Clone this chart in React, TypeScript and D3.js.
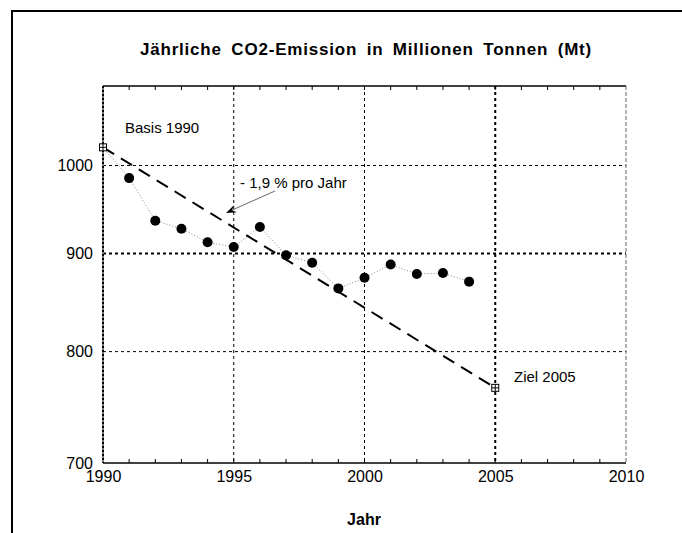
import { useRef, useEffect } from 'react';
import * as d3 from 'd3';

// Emission data (Mt CO2)
const years = [1991, 1992, 1993, 1994, 1995, 1996, 1997, 1998, 1999, 2000, 2001, 2002, 2003, 2004];
const emissions = [985, 936, 927, 912, 907, 929, 898, 890, 863, 874, 888, 878, 879, 870];

// Baseline and target (squares), joined by the dashed -1.9 %/year line
const targetYears = [1990, 2005];
const targetValues = [1022, 766];

const xTicks = [1990, 1995, 2000, 2005, 2010];
const yTicks = [700, 800, 900, 1000];
const xGrid = [1995, 2000, 2005];
const yGrid = [800, 900, 1000];

const W = 682;
const H = 533;
const FONT = '"Liberation Sans", Arial, Helvetica, sans-serif';

export default function App() {
  const svgRef = useRef<SVGSVGElement>(null);

  useEffect(() => {
    if (!svgRef.current) return;
    const svg = d3.select(svgRef.current);
    svg.selectAll('*').remove();

    const left = 103, right = 626, top = 86, bottom = 463;
    const x = d3.scaleLinear().domain([1990, 2010]).range([left, right]);
    const y = d3.scaleLog().domain([700, 1100]).range([bottom, top]);

    // outer frame (only top and left are in view)
    svg.append('line').attr('x1', 11).attr('x2', W).attr('y1', 11).attr('y2', 11)
      .attr('stroke', '#000').attr('stroke-width', 2);
    svg.append('line').attr('x1', 12).attr('x2', 12).attr('y1', 10).attr('y2', H)
      .attr('stroke', '#000').attr('stroke-width', 2);

    // title
    svg.append('text')
      .attr('x', 366).attr('y', 55)
      .attr('text-anchor', 'middle')
      .attr('font-family', FONT).attr('font-weight', 'bold').attr('font-size', 17)
      .attr('word-spacing', 4).attr('letter-spacing', 0.8)
      .text('Jährliche CO2-Emission in Millionen Tonnen (Mt)');

    const g = svg.append('g');

    // grid
    xGrid.forEach((v) => {
      const heavy = v === 2005;
      g.append('line')
        .attr('x1', x(v)).attr('x2', x(v)).attr('y1', top).attr('y2', bottom)
        .attr('stroke', '#000').attr('stroke-width', heavy ? 2 : 1)
        .attr('stroke-dasharray', '3,3');
    });
    yGrid.forEach((v) => {
      const heavy = v === 900;
      g.append('line')
        .attr('x1', left).attr('x2', right).attr('y1', y(v)).attr('y2', y(v))
        .attr('stroke', '#000').attr('stroke-width', heavy ? 2 : 1)
        .attr('stroke-dasharray', '3,3');
    });

    // plot borders
    g.append('line').attr('x1', left).attr('x2', right).attr('y1', top).attr('y2', top)
      .attr('stroke', '#000').attr('stroke-width', 1.5);
    g.append('line').attr('x1', left).attr('x2', right).attr('y1', bottom).attr('y2', bottom)
      .attr('stroke', '#000').attr('stroke-width', 1.5);
    g.append('line').attr('x1', left).attr('x2', left).attr('y1', top).attr('y2', bottom)
      .attr('stroke', '#777').attr('stroke-width', 2);
    g.append('line').attr('x1', left).attr('x2', left).attr('y1', top).attr('y2', bottom)
      .attr('stroke', '#000').attr('stroke-width', 2).attr('stroke-dasharray', '2,2');
    g.append('line').attr('x1', right).attr('x2', right).attr('y1', top).attr('y2', bottom)
      .attr('stroke', '#666').attr('stroke-width', 1).attr('stroke-dasharray', '4,2');

    // minor year ticks on top and bottom
    d3.range(1991, 2010).forEach((yr) => {
      g.append('line').attr('x1', x(yr)).attr('x2', x(yr)).attr('y1', bottom).attr('y2', bottom - 4)
        .attr('stroke', '#000').attr('stroke-width', 1);
      g.append('line').attr('x1', x(yr)).attr('x2', x(yr)).attr('y1', top).attr('y2', top + 4)
        .attr('stroke', '#000').attr('stroke-width', 1);
    });

    // x axis labels
    const xAxis = svg.append('g')
      .attr('transform', `translate(0,${bottom})`)
      .call(d3.axisBottom(x).tickValues(xTicks).tickFormat(d3.format('d')).tickSize(0).tickPadding(8));
    xAxis.select('.domain').remove();
    xAxis.selectAll('.tick text')
      .attr('font-family', FONT).attr('font-size', 16).attr('fill', '#000');

    // y axis labels
    const yAxis = svg.append('g')
      .attr('transform', `translate(${left},0)`)
      .call(d3.axisLeft(y).tickValues(yTicks).tickFormat(d3.format('d')).tickSize(0).tickPadding(10));
    yAxis.select('.domain').remove();
    yAxis.selectAll('.tick text')
      .attr('font-family', FONT).attr('font-size', 16).attr('fill', '#000');

    // x axis title
    svg.append('text')
      .attr('x', 364).attr('y', 525)
      .attr('text-anchor', 'middle')
      .attr('font-family', FONT).attr('font-weight', 'bold').attr('font-size', 16)
      .text('Jahr');

    // dotted line through the measured values (from 1990 base)
    const series = [[targetYears[0], targetValues[0]] as [number, number]]
      .concat(years.map((yr, i) => [yr, emissions[i]] as [number, number]));
    g.append('path')
      .datum(series)
      .attr('fill', 'none')
      .attr('stroke', '#888').attr('stroke-width', 1).attr('stroke-dasharray', '1,2')
      .attr('d', d3.line<[number, number]>().x((d) => x(d[0])).y((d) => y(d[1])));

    // target trend line
    g.append('path')
      .datum(targetYears.map((yr, i) => [yr, targetValues[i]] as [number, number]))
      .attr('fill', 'none')
      .attr('stroke', '#000').attr('stroke-width', 2).attr('stroke-dasharray', '13,8')
      .attr('d', d3.line<[number, number]>().x((d) => x(d[0])).y((d) => y(d[1])));

    // data points
    g.selectAll('.dot')
      .data(years)
      .enter()
      .append('circle')
      .attr('class', 'dot')
      .attr('cx', (d) => x(d))
      .attr('cy', (_, i) => y(emissions[i]))
      .attr('r', 5)
      .attr('fill', '#000');

    // squares with cross
    targetYears.forEach((yr, i) => {
      const cx = x(yr), cy = y(targetValues[i]), s = 3.5;
      g.append('rect').attr('x', cx - s).attr('y', cy - s).attr('width', 2 * s).attr('height', 2 * s)
        .attr('fill', '#fff').attr('stroke', '#000').attr('stroke-width', 1);
      g.append('line').attr('x1', cx - s).attr('x2', cx + s).attr('y1', cy).attr('y2', cy)
        .attr('stroke', '#000').attr('stroke-width', 1);
      g.append('line').attr('x1', cx).attr('x2', cx).attr('y1', cy - s).attr('y2', cy + s)
        .attr('stroke', '#000').attr('stroke-width', 1);
    });

    // annotations
    const ann = (tx: number, ty: number, label: string) =>
      svg.append('text').attr('x', tx).attr('y', ty)
        .attr('font-family', FONT).attr('font-size', 15).attr('fill', '#000').text(label);
    ann(125, 133, 'Basis 1990');
    ann(240, 188, '- 1,9 % pro Jahr');
    ann(514, 382, 'Ziel 2005');

    // arrow
    const ax1 = 275, ay1 = 191, ax2 = 226, ay2 = 213;
    g.append('line').attr('x1', ax1).attr('y1', ay1).attr('x2', ax2 + 4).attr('y2', ay2 - 2)
      .attr('stroke', '#666').attr('stroke-width', 1);
    const ang = Math.atan2(ay2 - ay1, ax2 - ax1);
    const len = 11, spread = 0.35;
    const p1 = [ax2 - len * Math.cos(ang - spread), ay2 - len * Math.sin(ang - spread)];
    const p2 = [ax2 - len * Math.cos(ang + spread), ay2 - len * Math.sin(ang + spread)];
    const pm = [ax2 - 0.6 * len * Math.cos(ang), ay2 - 0.6 * len * Math.sin(ang)];
    g.append('path')
      .attr('d', `M${p1[0]},${p1[1]}L${ax2},${ay2}L${p2[0]},${p2[1]}L${pm[0]},${pm[1]}Z`)
      .attr('fill', '#000');
  }, []);

  return (
    <svg
      ref={svgRef}
      width={W}
      height={H}
      style={{ position: 'absolute', left: 0, top: 0, background: '#fff', display: 'block' }}
    />
  );
}
